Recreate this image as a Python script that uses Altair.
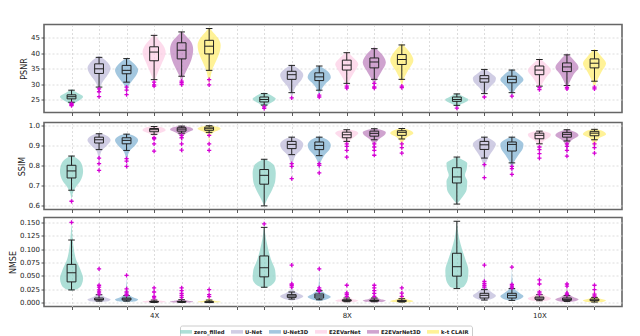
import altair as alt
import pandas as pd

METHODS = ["zero_filled", "U-Net", "U-Net3D", "E2EVarNet", "E2EVarNet3D", "k-t CLAIR"]
COLORS = ["#8dd3c7", "#bebada", "#80b1d3", "#fccde5", "#bc80bd", "#ffed6f"]
ACCELS = ["4X", "8X", "10X"]
GROUP_START = [1, 8, 15]

# ---- box statistics: [whisker_low, q1, median, q3, whisker_high] per accel / method
PSNR_BOX = [
    [[24.2, 25.3, 26.0, 26.6, 28.1], [29.1, 33.5, 35.0, 36.6, 38.7], [30.7, 33.4, 34.5, 36.1, 38.3],
     [31.5, 37.6, 40.4, 42.1, 45.8], [32.6, 38.2, 41.0, 43.4, 46.9], [34.5, 39.8, 42.3, 44.2, 48.0]],
    [[23.3, 24.3, 25.1, 25.9, 27.0], [27.3, 31.6, 33.1, 34.2, 36.1], [28.1, 31.2, 32.4, 33.7, 35.9],
     [30.3, 34.6, 36.2, 37.8, 40.2], [31.6, 35.3, 37.2, 38.5, 41.5], [31.6, 36.4, 38.0, 39.6, 42.7]],
    [[23.2, 24.5, 25.1, 25.9, 26.9], [27.0, 30.7, 31.8, 32.8, 34.8], [27.3, 30.5, 31.6, 32.6, 34.6],
     [29.4, 33.1, 34.6, 35.9, 38.0], [29.6, 34.1, 35.6, 36.9, 39.5], [31.0, 35.3, 36.8, 38.2, 40.9]],
]
PSNR_FLIERS = [
    [[23.8, 23.4, 23.1], [28.5, 27.6, 26.0], [29.1, 28.1, 26.7], [30.7, 29.8, 29.4], [31.0, 30.5, 29.9], [31.5, 29.8]],
    [[22.7, 22.2], [25.6], [26.5, 25.9], [29.4, 28.8], [30.3, 29.2, 28.8], [29.4, 28.9]],
    [[22.3], [25.9], [26.2], [28.9, 28.3], [29.0, 28.5], [29.1, 28.5]],
]
PSNR_VIOLIN = [
    [[(23.1, 0), (24.0, 0.3), (25.0, 0.75), (26.0, 1), (27.0, 0.6), (28.4, 0)],
     [(26.0, 0), (28.0, 0.08), (30.0, 0.2), (32.0, 0.55), (34.0, 0.9), (35.2, 1), (37.0, 0.75), (38.5, 0.3), (39.2, 0)],
     [(26.7, 0), (29.0, 0.1), (31.0, 0.45), (33.0, 0.85), (34.6, 1), (36.5, 0.7), (38.6, 0)],
     [(29.4, 0), (31.5, 0.1), (34.0, 0.35), (37.0, 0.7), (40.3, 1), (42.5, 0.8), (44.5, 0.35), (46.3, 0)],
     [(29.9, 0), (32.0, 0.12), (35.0, 0.5), (38.0, 0.85), (41.2, 1), (43.5, 0.85), (45.5, 0.4), (47.1, 0)],
     [(29.6, 0), (31.5, 0.08), (34.5, 0.25), (37.5, 0.6), (41.0, 0.95), (42.6, 1), (45.0, 0.75), (47.0, 0.3), (48.4, 0)]],
    [[(22.2, 0), (23.5, 0.35), (24.8, 0.9), (25.3, 1), (26.2, 0.7), (27.4, 0)],
     [(25.6, 0), (27.3, 0.12), (29.5, 0.4), (31.5, 0.85), (33.0, 1), (34.5, 0.75), (36.4, 0)],
     [(25.9, 0), (28.0, 0.15), (30.0, 0.5), (32.2, 1), (33.7, 0.85), (36.0, 0)],
     [(28.8, 0), (30.5, 0.15), (33.0, 0.5), (35.5, 0.9), (36.5, 1), (38.5, 0.6), (40.7, 0)],
     [(28.8, 0), (31.0, 0.15), (34.0, 0.6), (37.0, 1), (39.0, 0.8), (42.0, 0)],
     [(28.9, 0), (31.5, 0.15), (34.5, 0.55), (37.8, 1), (40.0, 0.75), (43.2, 0)]],
    [[(22.3, 0), (23.4, 0.3), (24.5, 0.9), (25.1, 1), (26.0, 0.6), (27.1, 0)],
     [(25.9, 0), (27.0, 0.1), (29.0, 0.45), (31.0, 0.95), (32.0, 1), (33.5, 0.6), (35.1, 0)],
     [(26.2, 0), (27.5, 0.15), (29.5, 0.55), (31.5, 1), (33.0, 0.7), (34.9, 0)],
     [(28.3, 0), (29.5, 0.15), (32.0, 0.55), (34.5, 1), (36.5, 0.6), (38.4, 0)],
     [(28.5, 0), (30.0, 0.15), (33.0, 0.55), (35.5, 1), (37.5, 0.65), (40.0, 0)],
     [(28.5, 0), (31.0, 0.2), (34.0, 0.6), (36.7, 1), (39.0, 0.6), (41.5, 0)]],
]

SSIM_BOX = [
    [[0.676, 0.737, 0.772, 0.800, 0.846], [0.878, 0.911, 0.927, 0.940, 0.957], [0.874, 0.907, 0.924, 0.937, 0.955],
     [0.954, 0.967, 0.977, 0.983, 0.993], [0.960, 0.970, 0.980, 0.987, 0.995], [0.964, 0.974, 0.982, 0.990, 0.997]],
    [[0.598, 0.706, 0.750, 0.779, 0.830], [0.853, 0.883, 0.904, 0.919, 0.940], [0.848, 0.878, 0.899, 0.916, 0.940],
     [0.919, 0.937, 0.952, 0.965, 0.977], [0.927, 0.945, 0.959, 0.970, 0.982], [0.931, 0.949, 0.964, 0.972, 0.983]],
    [[0.607, 0.712, 0.742, 0.788, 0.841], [0.836, 0.879, 0.902, 0.919, 0.940], [0.812, 0.871, 0.904, 0.916, 0.940],
     [0.907, 0.932, 0.949, 0.960, 0.970], [0.921, 0.940, 0.954, 0.964, 0.977], [0.927, 0.947, 0.960, 0.969, 0.979]],
]
SSIM_FLIERS = [
    [[0.621], [0.836, 0.808, 0.775], [0.833, 0.821, 0.795], [0.937, 0.932, 0.907, 0.871],
     [0.949, 0.937, 0.907, 0.876], [0.949, 0.907, 0.874]],
    [[], [0.808, 0.795, 0.734], [0.808, 0.800, 0.762], [0.907, 0.894, 0.874, 0.841],
     [0.907, 0.891, 0.874, 0.850], [0.907, 0.888, 0.861]],
    [[], [0.803, 0.739], [0.795, 0.783, 0.755], [0.891, 0.878, 0.858, 0.836],
     [0.907, 0.894, 0.874, 0.846], [0.907, 0.888, 0.861]],
]
SSIM_VIOLIN = [
    [[(0.621, 0), (0.66, 0.1), (0.69, 0.35), (0.72, 0.75), (0.77, 1), (0.81, 0.85), (0.835, 0.45), (0.85, 0)],
     [(0.775, 0), (0.83, 0.05), (0.87, 0.2), (0.90, 0.7), (0.925, 1), (0.945, 0.75), (0.961, 0)],
     [(0.795, 0), (0.83, 0.05), (0.87, 0.25), (0.90, 0.75), (0.925, 1), (0.945, 0.7), (0.958, 0)],
     [(0.871, 0), (0.93, 0.03), (0.955, 0.3), (0.975, 1), (0.99, 0.6), (0.996, 0)],
     [(0.876, 0), (0.935, 0.05), (0.96, 0.4), (0.978, 1), (0.99, 0.65), (0.998, 0)],
     [(0.874, 0), (0.94, 0.04), (0.965, 0.4), (0.982, 1), (0.993, 0.6), (0.999, 0)]],
    [[(0.598, 0), (0.63, 0.25), (0.68, 0.7), (0.72, 0.95), (0.76, 1), (0.80, 0.85), (0.833, 0)],
     [(0.734, 0), (0.80, 0.08), (0.85, 0.35), (0.88, 0.85), (0.905, 1), (0.925, 0.75), (0.943, 0)],
     [(0.762, 0), (0.81, 0.1), (0.85, 0.45), (0.88, 0.9), (0.90, 1), (0.925, 0.75), (0.945, 0)],
     [(0.841, 0), (0.89, 0.05), (0.925, 0.3), (0.95, 0.85), (0.96, 1), (0.972, 0.7), (0.98, 0)],
     [(0.850, 0), (0.90, 0.08), (0.93, 0.4), (0.955, 0.95), (0.965, 1), (0.975, 0.7), (0.985, 0)],
     [(0.861, 0), (0.91, 0.08), (0.94, 0.45), (0.96, 1), (0.975, 0.7), (0.986, 0)]],
    [[(0.607, 0), (0.64, 0.45), (0.68, 0.85), (0.72, 0.9), (0.75, 0.7), (0.78, 0.85), (0.81, 0.9), (0.83, 0.4), (0.842, 0)],
     [(0.739, 0), (0.80, 0.1), (0.85, 0.45), (0.89, 0.9), (0.905, 1), (0.925, 0.7), (0.943, 0)],
     [(0.755, 0), (0.81, 0.15), (0.85, 0.55), (0.885, 0.95), (0.905, 1), (0.925, 0.7), (0.943, 0)],
     [(0.836, 0), (0.88, 0.06), (0.92, 0.35), (0.945, 0.95), (0.955, 1), (0.965, 0.7), (0.975, 0)],
     [(0.846, 0), (0.89, 0.08), (0.925, 0.4), (0.95, 1), (0.965, 0.75), (0.98, 0)],
     [(0.861, 0), (0.90, 0.08), (0.935, 0.4), (0.955, 1), (0.97, 0.75), (0.982, 0)]],
]

NMSE_BOX = [
    [[0.0239, 0.0389, 0.0559, 0.0716, 0.117], [0.003, 0.005, 0.0063, 0.0088, 0.015], [0.003, 0.005, 0.0069, 0.0088, 0.0132],
     [0.0006, 0.0013, 0.0019, 0.0025, 0.005], [0.0006, 0.0013, 0.0019, 0.0025, 0.0056], [0.0003, 0.0008, 0.0013, 0.0019, 0.005]],
    [[0.0289, 0.0483, 0.0653, 0.0873, 0.1406], [0.0069, 0.010, 0.0126, 0.0151, 0.020], [0.0056, 0.0088, 0.0126, 0.0163, 0.0226],
     [0.0019, 0.0031, 0.0044, 0.0056, 0.0088], [0.0019, 0.0031, 0.0041, 0.005, 0.0088], [0.0013, 0.0025, 0.0031, 0.0044, 0.0075]],
    [[0.0264, 0.0496, 0.0672, 0.0923, 0.152], [0.005, 0.0088, 0.0138, 0.0176, 0.0245], [0.0044, 0.0088, 0.0138, 0.0176, 0.0264],
     [0.0038, 0.0063, 0.0088, 0.0107, 0.015], [0.0025, 0.0044, 0.0063, 0.0088, 0.0132], [0.0013, 0.0038, 0.005, 0.0069, 0.010]],
]
NMSE_FLIERS = [
    [[0.150], [0.063, 0.0326, 0.029, 0.024, 0.020, 0.016], [0.051, 0.026, 0.020, 0.016, 0.014],
     [0.0276, 0.020, 0.012, 0.009], [0.0276, 0.0226, 0.0176, 0.0138, 0.010], [0.0245, 0.015, 0.0113]],
    [[0.147], [0.0703, 0.035, 0.0326, 0.029], [0.063, 0.0276, 0.0245, 0.0213],
     [0.0326, 0.0182, 0.015, 0.012], [0.0326, 0.0276, 0.0226, 0.0176, 0.012], [0.0276, 0.018, 0.012]],
    [[], [0.0703, 0.040, 0.036, 0.0326, 0.029], [0.0665, 0.034, 0.031, 0.0276],
     [0.0427, 0.035, 0.020, 0.016], [0.035, 0.031, 0.018, 0.015], [0.0326, 0.0245, 0.016, 0.0126]],
]
NMSE_VIOLIN = [
    [[(0.0226, 0), (0.026, 0.55), (0.035, 0.9), (0.045, 1), (0.06, 0.8), (0.08, 0.4), (0.10, 0.2), (0.125, 0.08), (0.150, 0)],
     [(0.0013, 0), (0.003, 0.8), (0.006, 1), (0.010, 0.6), (0.016, 0.15), (0.03, 0.04), (0.063, 0)],
     [(0.0015, 0), (0.003, 0.8), (0.006, 1), (0.010, 0.6), (0.016, 0.15), (0.03, 0.04), (0.051, 0)],
     [(0.0003, 0), (0.001, 0.9), (0.002, 1), (0.004, 0.5), (0.008, 0.08), (0.0276, 0)],
     [(0.0003, 0), (0.001, 0.9), (0.002, 1), (0.004, 0.5), (0.008, 0.08), (0.0276, 0)],
     [(0.0001, 0), (0.001, 0.9), (0.0015, 1), (0.0035, 0.5), (0.008, 0.06), (0.0245, 0)]],
    [[(0.0276, 0), (0.032, 0.6), (0.045, 1), (0.06, 0.95), (0.08, 0.6), (0.10, 0.35), (0.12, 0.15), (0.147, 0)],
     [(0.004, 0), (0.007, 0.6), (0.012, 1), (0.018, 0.5), (0.025, 0.1), (0.04, 0.03), (0.0703, 0)],
     [(0.003, 0), (0.006, 0.6), (0.011, 1), (0.017, 0.55), (0.025, 0.1), (0.04, 0.03), (0.063, 0)],
     [(0.001, 0), (0.002, 0.8), (0.004, 1), (0.007, 0.5), (0.012, 0.1), (0.0326, 0)],
     [(0.001, 0), (0.002, 0.8), (0.004, 1), (0.007, 0.5), (0.012, 0.1), (0.0326, 0)],
     [(0.0005, 0), (0.0015, 0.8), (0.003, 1), (0.006, 0.5), (0.012, 0.08), (0.0276, 0)]],
    [[(0.0264, 0), (0.03, 0.6), (0.045, 0.95), (0.06, 1), (0.08, 0.75), (0.10, 0.45), (0.12, 0.2), (0.152, 0)],
     [(0.004, 0), (0.007, 0.6), (0.013, 1), (0.02, 0.6), (0.028, 0.2), (0.045, 0.04), (0.0703, 0)],
     [(0.003, 0), (0.006, 0.6), (0.012, 1), (0.019, 0.6), (0.027, 0.2), (0.045, 0.04), (0.0665, 0)],
     [(0.002, 0), (0.004, 0.7), (0.008, 1), (0.013, 0.5), (0.02, 0.12), (0.0427, 0)],
     [(0.001, 0), (0.003, 0.7), (0.006, 1), (0.011, 0.5), (0.018, 0.1), (0.035, 0)],
     [(0.0005, 0), (0.002, 0.8), (0.004, 1), (0.008, 0.45), (0.014, 0.1), (0.0326, 0)]],
]

HALF = 0.42   # max half-width of a violin in x units
BOXW = 0.16   # half-width of box
CAPW = 0.12   # half-width of whisker caps
FONT = "DejaVu Sans"


def build(box, fliers, violins):
    vrows, brows, frows = [], [], []
    for a, acc in enumerate(ACCELS):
        for m, meth in enumerate(METHODS):
            pos = GROUP_START[a] + m
            vid = f"{acc}-{meth}"
            for (v, w) in violins[a][m]:
                vrows.append(dict(vid=vid, method=meth, value=v, xlo=pos - HALF * w, xhi=pos + HALF * w))
            lo, q1, med, q3, hi = box[a][m]
            brows.append(dict(pos=pos, lo=lo, q1=q1, med=med, q3=q3, hi=hi,
                              bl=pos - BOXW, br=pos + BOXW, cl=pos - CAPW, cr=pos + CAPW))
            for f in fliers[a][m]:
                frows.append(dict(pos=pos, value=f))
    return pd.DataFrame(vrows), pd.DataFrame(brows), pd.DataFrame(frows)


def panel(metric, box, fliers, violins, domain, ticks, fmt, height, bottom):
    vdf, bdf, fdf = build(box, fliers, violins)
    xscale = alt.Scale(domain=[0, 21], nice=False, zero=False)
    yscale = alt.Scale(domain=domain, nice=False, zero=False)
    if bottom:
        xaxis = alt.Axis(values=list(range(1, 21)), title=None, grid=True, labels=True, labelOverlap=False,
                         labelExpr="datum.value == 4 ? '4X' : datum.value == 11 ? '8X' : datum.value == 18 ? '10X' : ''")
    else:
        xaxis = alt.Axis(values=list(range(1, 21)), title=None, grid=True, labels=False)
    yaxis = alt.Axis(values=ticks, format=fmt, title=metric, grid=True)

    def X(f):
        return alt.X(f, type="quantitative", scale=xscale, axis=xaxis)

    def Y(f):
        return alt.Y(f, type="quantitative", scale=yscale, axis=yaxis)

    violin = alt.Chart(vdf).mark_area(orient="horizontal", interpolate="monotone", opacity=0.72).encode(
        y=Y("value"),
        x=alt.X("xlo", type="quantitative", scale=xscale, axis=xaxis, stack=False),
        x2=alt.X2("xhi"),
        color=alt.Color("method:N", scale=alt.Scale(domain=METHODS, range=COLORS),
                        legend=alt.Legend(title=None, orient="none", direction="horizontal",
                                          legendX=136, legendY=301)),
        detail="vid:N",
    )
    base = alt.Chart(bdf)
    wlo = base.mark_rule(color="#222", strokeWidth=1).encode(x=X("pos"), y=Y("lo"), y2=alt.Y2("q1"))
    whi = base.mark_rule(color="#222", strokeWidth=1).encode(x=X("pos"), y=Y("q3"), y2=alt.Y2("hi"))
    clo = base.mark_rule(color="#222", strokeWidth=1).encode(x=X("cl"), x2=alt.X2("cr"), y=Y("lo"))
    chi = base.mark_rule(color="#222", strokeWidth=1).encode(x=X("cl"), x2=alt.X2("cr"), y=Y("hi"))
    rect = base.mark_rect(fillOpacity=0, stroke="#222", strokeWidth=1).encode(
        x=X("bl"), x2=alt.X2("br"), y=Y("q1"), y2=alt.Y2("q3"))
    med = base.mark_rule(color="#222", strokeWidth=1).encode(x=X("bl"), x2=alt.X2("br"), y=Y("med"))
    fl = alt.Chart(fdf).mark_point(shape="M-1,0L1,0M0,-1L0,1", filled=False, stroke="#d600d6",
                                   strokeWidth=1.3, size=18, opacity=1).encode(x=X("pos"), y=Y("value"))
    return alt.layer(violin, wlo, whi, clo, chi, rect, med, fl).properties(width=578, height=height)


p1 = panel("PSNR", PSNR_BOX, PSNR_FLIERS, PSNR_VIOLIN, [20.9, 49.3], [25, 30, 35, 40, 45], "d", 88, False)
p2 = panel("SSIM", SSIM_BOX, SSIM_FLIERS, SSIM_VIOLIN, [0.58, 1.013], [0.6, 0.7, 0.8, 0.9, 1.0], ".1f", 87, False)
p3 = panel("NMSE", NMSE_BOX, NMSE_FLIERS, NMSE_VIOLIN, [-0.007, 0.159],
           [0, 0.025, 0.05, 0.075, 0.1, 0.125, 0.15], ".3f", 89, True)

chart = alt.vconcat(p1, p2, p3, spacing=2).properties(
    padding={"left": 0, "top": 15.5, "right": 0, "bottom": 0}
).configure_view(
    stroke="#666", strokeWidth=1.6
).configure_axis(
    labelFont=FONT, titleFont=FONT, labelFontSize=7, titleFontSize=8, titleFontWeight="normal",
    labelColor="#222", titleColor="#222", tickColor="#333", tickSize=3, tickWidth=0.8,
    labelPadding=1.5, titlePadding=2, domain=False,
    gridColor="#d4d4d4", gridDash=[2, 2], gridWidth=0.8
).configure_legend(
    labelFont=FONT, labelFontSize=5.3, labelFontWeight="bold", labelColor="#222",
    symbolType="M-2,-0.6H2V0.6H-2Z", symbolSize=36, symbolOpacity=0.72, symbolStrokeWidth=0,
    labelOffset=5, columnPadding=6, padding=3, strokeColor="#cccccc", cornerRadius=2
)

chart.save("out.html", embed_options={"renderer": "svg", "actions": False})
